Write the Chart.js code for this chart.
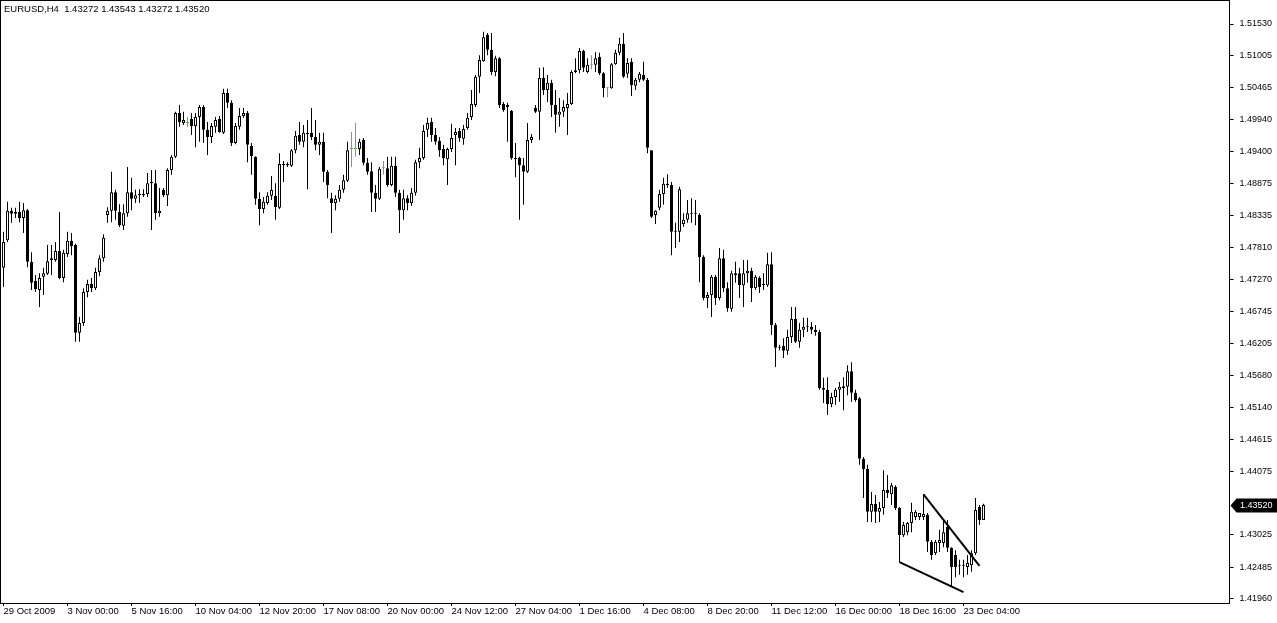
<!DOCTYPE html>
<html>
<head>
<meta charset="utf-8">
<script src="https://cdn.jsdelivr.net/npm/chart.js@4.4.0/dist/chart.umd.min.js"></script>
<style>
  html, body { margin: 0; padding: 0; background: #fff; overflow: hidden; }
  canvas { display: block; }
</style>
</head>
<body>
<canvas id="chart" width="1277" height="623"></canvas>
<script>
const symbol = 'EURUSD,H4';

// one label every 16 bars (H4)
const timeLabels = ['29 Oct 2009', '3 Nov 00:00', '5 Nov 16:00', '10 Nov 04:00', '12 Nov 20:00',
  '17 Nov 08:00', '20 Nov 00:00', '24 Nov 12:00', '27 Nov 04:00', '1 Dec 16:00', '4 Dec 08:00',
  '8 Dec 20:00', '11 Dec 12:00', '16 Dec 00:00', '18 Dec 16:00', '23 Dec 04:00'];
const labelStep = 16;
const emptyBars = 61; // chart shift on the right

const priceTicks = [1.51530, 1.51005, 1.50465, 1.49940, 1.49400, 1.48875, 1.48335, 1.47810,
  1.47270, 1.46745, 1.46205, 1.45680, 1.45140, 1.44615, 1.44075, 1.43025, 1.42485, 1.41960];
const priceMin = 1.41890;
const priceMax = 1.51913;

const opens = [
  1.4747,1.4793,1.4842,1.4837,1.4840,1.4830,1.4843,1.4757,1.4725,1.4710,
  1.4732,1.4737,1.4763,1.4760,1.4775,1.4730,1.4770,1.4792,1.4785,1.4639,
  1.4655,1.4707,1.4720,1.4713,1.4740,1.4763,1.4835,1.4842,1.4873,1.4840,
  1.4817,1.4838,1.4873,1.4862,1.4868,1.4870,1.4870,1.4890,1.4888,1.4838,
  1.4877,1.4868,1.4910,1.4932,1.5005,1.4988,1.4988,1.4995,1.4983,1.4998,
  1.5015,1.4977,1.4965,1.4982,1.4995,1.4972,1.5038,1.5022,1.4955,1.4982,
  1.5000,1.5005,1.4950,1.4932,1.4862,1.4845,1.4855,1.4867,1.4867,1.4847,
  1.4920,1.4918,1.4917,1.4943,1.4968,1.4957,1.4972,1.4972,1.4965,1.4952,
  1.4957,1.4907,1.4863,1.4855,1.4862,1.4877,1.4892,1.4945,1.4945,1.4945,
  1.4960,1.4922,1.4908,1.4872,1.4862,1.4913,1.4913,1.4885,1.4917,1.4872,
  1.4843,1.4863,1.4855,1.4872,1.4923,1.4930,1.4977,1.4990,1.4968,1.4958,
  1.4945,1.4928,1.4945,1.4968,1.4975,1.4962,1.4980,1.4998,1.5018,1.5065,
  1.5091,1.5135,1.5110,1.5073,1.5096,1.5020,1.5018,1.5008,1.4930,1.4930,
  1.4918,1.4907,1.4960,1.5013,1.5007,1.5063,1.5043,1.5055,1.5018,1.5002,
  1.5007,1.5013,1.5020,1.5073,1.5076,1.5108,1.5073,1.5085,1.5085,1.5098,
  1.5071,1.5046,1.5046,1.5086,1.5105,1.5120,1.5070,1.5090,1.5050,1.5060,
  1.5068,1.5060,1.4943,1.4835,1.4847,1.4870,1.4887,1.4885,1.4807,1.4807,
  1.4820,1.4827,1.4838,1.4837,1.4835,1.4765,1.4697,1.4702,1.4732,1.4697,
  1.4763,1.4713,1.4679,1.4738,1.4738,1.4718,1.4738,1.4742,1.4713,1.4730,
  1.4718,1.4718,1.4753,1.4652,1.4614,1.4617,1.4609,1.4632,1.4662,1.4624,
  1.4644,1.4649,1.4649,1.4644,1.4640,1.4547,1.4544,1.4520,1.4532,1.4544,
  1.4547,1.4549,1.4575,1.4539,1.4530,1.4429,1.4412,1.4341,1.4354,1.4341,
  1.4347,1.4377,1.4370,1.4382,1.4347,1.4302,1.4307,1.4322,1.4332,1.4332,
  1.4332,1.4336,1.4291,1.4272,1.4289,1.4289,1.4316,1.4281,1.4269,1.4251,
  1.4252,1.4249,1.4252,1.4272,1.4349,1.43272
];
const highs = [
  1.4807,1.4857,1.4847,1.4847,1.4857,1.4855,1.4845,1.4773,1.4735,1.4738,
  1.4747,1.4785,1.4785,1.4790,1.4840,1.4777,1.4807,1.4805,1.4787,1.4665,
  1.4713,1.4727,1.4730,1.4747,1.4768,1.4803,1.4848,1.4907,1.4877,1.4853,
  1.4853,1.4915,1.4897,1.4877,1.4878,1.4878,1.4905,1.4910,1.4910,1.4880,
  1.4880,1.4913,1.4935,1.5007,1.5018,1.5007,1.4998,1.5005,1.5005,1.5018,
  1.5018,1.4990,1.4988,1.4998,1.5000,1.5045,1.5045,1.5026,1.4988,1.5013,
  1.5013,1.5008,1.4955,1.4933,1.4873,1.4865,1.4873,1.4900,1.4888,1.4938,
  1.4925,1.4923,1.4945,1.4975,1.4990,1.4985,1.4993,1.5013,1.4993,1.4972,
  1.4972,1.4910,1.4872,1.4868,1.4885,1.4902,1.4957,1.4973,1.4988,1.4962,
  1.4963,1.4930,1.4923,1.4885,1.4915,1.4925,1.4932,1.4932,1.4932,1.4877,
  1.4877,1.4868,1.4880,1.4927,1.4947,1.4985,1.4997,1.4997,1.4980,1.4965,
  1.4952,1.4947,1.4987,1.4980,1.4980,1.4985,1.5005,1.5043,1.5068,1.5101,
  1.5140,1.5138,1.5138,1.5100,1.5098,1.5023,1.5022,1.5010,1.4955,1.4932,
  1.4930,1.4988,1.4970,1.5018,1.5080,1.5081,1.5068,1.5060,1.5043,1.5030,
  1.5026,1.5038,1.5076,1.5096,1.5113,1.5110,1.5096,1.5101,1.5106,1.5105,
  1.5073,1.5048,1.5088,1.5110,1.5130,1.5138,1.5096,1.5096,1.5063,1.5073,
  1.5090,1.5063,1.4943,1.4843,1.4877,1.4897,1.4903,1.4890,1.4822,1.4882,
  1.4838,1.4860,1.4863,1.4860,1.4838,1.4768,1.4707,1.4735,1.4735,1.4780,
  1.4777,1.4723,1.4742,1.4757,1.4747,1.4760,1.4760,1.4747,1.4735,1.4733,
  1.4738,1.4772,1.4773,1.4655,1.4619,1.4630,1.4644,1.4682,1.4682,1.4655,
  1.4664,1.4664,1.4657,1.4652,1.4644,1.4564,1.4565,1.4539,1.4547,1.4557,
  1.4565,1.4585,1.4590,1.4544,1.4532,1.4432,1.4419,1.4374,1.4369,1.4357,
  1.4410,1.4402,1.4389,1.4385,1.4349,1.4324,1.4324,1.4356,1.4344,1.4339,
  1.4370,1.4339,1.4294,1.4294,1.4311,1.4327,1.4327,1.4282,1.4277,1.4261,
  1.4261,1.4269,1.4277,1.4364,1.4352,1.43543
];
const lows = [
  1.4715,1.4790,1.4822,1.4830,1.4823,1.4805,1.4748,1.4710,1.4707,1.4682,
  1.4702,1.4735,1.4735,1.4757,1.4728,1.4723,1.4765,1.4768,1.4624,1.4624,
  1.4650,1.4698,1.4707,1.4710,1.4733,1.4757,1.4822,1.4823,1.4827,1.4815,
  1.4810,1.4832,1.4843,1.4855,1.4855,1.4865,1.4865,1.4810,1.4827,1.4832,
  1.4865,1.4850,1.4902,1.4930,1.4982,1.4985,1.4982,1.4968,1.4948,1.4957,
  1.4955,1.4935,1.4955,1.4972,1.4972,1.4970,1.5013,1.4950,1.4953,1.4977,
  1.4997,1.4923,1.4902,1.4852,1.4818,1.4838,1.4852,1.4860,1.4827,1.4845,
  1.4890,1.4915,1.4915,1.4938,1.4952,1.4948,1.4878,1.4960,1.4943,1.4935,
  1.4890,1.4863,1.4805,1.4843,1.4857,1.4872,1.4890,1.4915,1.4932,1.4935,
  1.4918,1.4902,1.4840,1.4840,1.4860,1.4902,1.4882,1.4883,1.4865,1.4805,
  1.4827,1.4843,1.4850,1.4867,1.4913,1.4927,1.4965,1.4957,1.4952,1.4932,
  1.4918,1.4885,1.4940,1.4918,1.4957,1.4952,1.4977,1.4993,1.5015,1.5038,
  1.5090,1.5101,1.5068,1.5066,1.5013,1.5007,1.4957,1.4927,1.4898,1.4827,
  1.4852,1.4905,1.4955,1.5005,1.4960,1.5035,1.5023,1.4998,1.4972,1.4982,
  1.4998,1.4968,1.5018,1.5071,1.5071,1.5073,1.5071,1.5078,1.5073,1.5068,
  1.5031,1.5031,1.5045,1.5085,1.5101,1.5063,1.5063,1.5033,1.5043,1.5056,
  1.5058,1.4938,1.4830,1.4820,1.4843,1.4852,1.4880,1.4768,1.4780,1.4790,
  1.4815,1.4822,1.4822,1.4818,1.4723,1.4693,1.4680,1.4665,1.4685,1.4693,
  1.4707,1.4674,1.4674,1.4722,1.4697,1.4682,1.4722,1.4690,1.4710,1.4705,
  1.4710,1.4715,1.4635,1.4582,1.4610,1.4597,1.4602,1.4622,1.4622,1.4614,
  1.4632,1.4640,1.4637,1.4634,1.4544,1.4522,1.4502,1.4515,1.4519,1.4524,
  1.4510,1.4535,1.4524,1.4524,1.4419,1.4364,1.4324,1.4324,1.4322,1.4324,
  1.4336,1.4364,1.4352,1.4344,1.4257,1.4299,1.4302,1.4307,1.4327,1.4327,
  1.4327,1.4274,1.4261,1.4269,1.4274,1.4282,1.4274,1.4216,1.4232,1.4236,
  1.4232,1.4236,1.4241,1.4269,1.4319,1.43272
];
const closes = [
  1.4790,1.4842,1.4837,1.4840,1.4830,1.4843,1.4757,1.4722,1.4712,1.4730,
  1.4738,1.4758,1.4760,1.4775,1.4730,1.4772,1.4792,1.4783,1.4639,1.4655,
  1.4707,1.4720,1.4713,1.4740,1.4763,1.4797,1.4842,1.4873,1.4842,1.4818,
  1.4838,1.4873,1.4862,1.4868,1.4870,1.4868,1.4888,1.4888,1.4838,1.4842,
  1.4868,1.4910,1.4932,1.5005,1.4990,1.4993,1.4988,1.4983,1.4998,1.5015,
  1.4977,1.4965,1.4983,1.4993,1.4973,1.5038,1.5022,1.4955,1.4983,1.5000,
  1.5005,1.4952,1.4933,1.4862,1.4845,1.4857,1.4867,1.4877,1.4848,1.4920,
  1.4918,1.4920,1.4943,1.4967,1.4957,1.4972,1.4970,1.4965,1.4952,1.4957,
  1.4907,1.4885,1.4855,1.4862,1.4877,1.4893,1.4943,1.4945,1.4945,1.4957,
  1.4922,1.4907,1.4872,1.4862,1.4912,1.4913,1.4885,1.4917,1.4872,1.4843,
  1.4863,1.4855,1.4872,1.4923,1.4930,1.4975,1.4988,1.4968,1.4957,1.4943,
  1.4930,1.4945,1.4963,1.4973,1.4963,1.4978,1.4997,1.5020,1.5065,1.5093,
  1.5131,1.5110,1.5073,1.5096,1.5018,1.5010,1.5015,1.4930,1.4928,1.4918,
  1.4907,1.4960,1.4965,1.5007,1.5063,1.5043,1.5055,1.5018,1.5002,1.5007,
  1.5015,1.5020,1.5073,1.5076,1.5108,1.5080,1.5085,1.5085,1.5096,1.5071,
  1.5046,1.5046,1.5086,1.5105,1.5120,1.5065,1.5088,1.5051,1.5060,1.5070,
  1.5060,1.4947,1.4832,1.4842,1.4870,1.4887,1.4885,1.4807,1.4808,1.4878,
  1.4827,1.4838,1.4837,1.4838,1.4765,1.4697,1.4702,1.4732,1.4697,1.4763,
  1.4713,1.4680,1.4738,1.4735,1.4718,1.4738,1.4742,1.4713,1.4732,1.4715,
  1.4720,1.4753,1.4652,1.4614,1.4615,1.4609,1.4632,1.4662,1.4624,1.4644,
  1.4649,1.4650,1.4644,1.4640,1.4547,1.4544,1.4520,1.4532,1.4544,1.4549,
  1.4550,1.4575,1.4539,1.4527,1.4429,1.4412,1.4341,1.4354,1.4341,1.4347,
  1.4377,1.4372,1.4385,1.4347,1.4302,1.4319,1.4322,1.4341,1.4341,1.4339,
  1.4337,1.4291,1.4269,1.4291,1.4294,1.4307,1.4281,1.4249,1.4249,1.4252,
  1.4251,1.4256,1.4272,1.4344,1.4327,1.43520
];

// hand drawn trend lines: [bar index, price]
const trendLines = [
  [[230, 1.4370], [244, 1.4251]],
  [[224, 1.4257], [240, 1.4207]]
];

const FONT = '"Liberation Sans", Arial, sans-serif';
const dojiColor = '#3cc83c';

const nBars = opens.length;
const labels = [];
for (let i = 0; i < nBars + emptyBars; i++) {
  labels.push(i % labelStep === 0 && timeLabels[i / labelStep] ? timeLabels[i / labelStep] : '');
}

const isDoji = opens.map((o, i) => o === closes[i]);
const bodyFill = opens.map((o, i) => isDoji[i] ? dojiColor : (closes[i] > o ? '#ffffff' : '#000000'));
const lineCol = isDoji.map(d => d ? dojiColor : '#000000');

const fmt = v => v.toFixed(5);

const overlay = {
  id: 'overlay',
  afterDatasetsDraw(chart) {
    const { ctx, scales: { x, y } } = chart;
    ctx.save();
    // trend lines
    ctx.strokeStyle = '#000';
    ctx.lineWidth = 2;
    trendLines.forEach(([p1, p2]) => {
      ctx.beginPath();
      ctx.moveTo(x.getPixelForValue(p1[0]), y.getPixelForValue(p1[1]));
      ctx.lineTo(x.getPixelForValue(p2[0]), y.getPixelForValue(p2[1]));
      ctx.stroke();
    });
    ctx.restore();
  },
  afterDraw(chart) {
    const { ctx, chartArea: a, scales: { y } } = chart;
    ctx.save();
    // frame
    ctx.strokeStyle = '#000';
    ctx.lineWidth = 1;
    ctx.strokeRect(0.5, 0.5, a.right - 0.5, a.bottom);
    // header
    const last = nBars - 1;
    ctx.fillStyle = '#000';
    ctx.font = '9.5px ' + FONT;
    ctx.textBaseline = 'middle';
    ctx.textAlign = 'left';
    ctx.fillText(symbol + '  ' + fmt(opens[last]) + ' ' + fmt(highs[last]) + ' ' +
      fmt(lows[last]) + ' ' + fmt(closes[last]), 4, 9);
    // current price marker
    ctx.font = '9px ' + FONT;
    const py = Math.round(y.getPixelForValue(closes[last]));
    ctx.beginPath();
    ctx.moveTo(a.right + 1, py + 0.5);
    ctx.lineTo(a.right + 7, py - 6.5);
    ctx.lineTo(1277, py - 6.5);
    ctx.lineTo(1277, py + 7.5);
    ctx.lineTo(a.right + 7, py + 7.5);
    ctx.closePath();
    ctx.fill();
    ctx.fillStyle = '#fff';
    ctx.fillText(fmt(closes[last]), a.right + 10.5, py + 0.5);
    ctx.restore();
  }
};

new Chart(document.getElementById('chart'), {
  type: 'bar',
  data: {
    labels: labels,
    datasets: [
      {
        label: 'body',
        data: opens.map((o, i) => [o, closes[i]]),
        backgroundColor: bodyFill,
        borderColor: lineCol,
        borderWidth: 1,
        borderSkipped: false,
        barThickness: 3,
        minBarLength: 1,
        inflateAmount: 0,
        grouped: false,
        order: 0
      },
      {
        label: 'wick',
        data: lows.map((l, i) => [Math.min(l, opens[i], closes[i]), Math.max(highs[i], opens[i], closes[i])]),
        backgroundColor: lineCol,
        borderWidth: 0,
        barThickness: 1,
        inflateAmount: 0,
        grouped: false,
        order: 1
      }
    ]
  },
  options: {
    responsive: false,
    animation: false,
    events: [],
    layout: { padding: { top: 1, left: 1.5, right: 0, bottom: 0 } },
    plugins: { legend: { display: false }, tooltip: { enabled: false } },
    scales: {
      x: {
        type: 'category',
        offset: true,
        afterFit(s) { s.height = 20; s.paddingLeft = 0; s.paddingRight = 0; },
        afterBuildTicks(s) { s.ticks = s.ticks.filter(t => labels[t.value]); },
        grid: { display: true, drawOnChartArea: false, drawTicks: true, tickLength: 3, color: '#000', offset: false },
        border: { display: true, color: '#000' },
        ticks: {
          autoSkip: false, maxRotation: 0, minRotation: 0, align: 'start', padding: 0,
          color: '#000', font: { family: FONT, size: 9.5 },
          callback(v) { return labels[v]; }
        }
      },
      y: {
        type: 'linear',
        position: 'right',
        min: priceMin,
        max: priceMax,
        afterFit(s) { s.width = 47.5; s.paddingTop = 0; s.paddingBottom = 0; },
        afterBuildTicks(s) { s.ticks = priceTicks.map(v => ({ value: v })); },
        grid: { display: true, drawOnChartArea: false, drawTicks: true, tickLength: 4, color: '#000' },
        border: { display: true, color: '#000' },
        ticks: {
          padding: 6, color: '#000', font: { family: FONT, size: 9 },
          callback(v) { return v.toFixed(5); }
        }
      }
    }
  },
  plugins: [overlay]
});
</script>
</body>
</html>
